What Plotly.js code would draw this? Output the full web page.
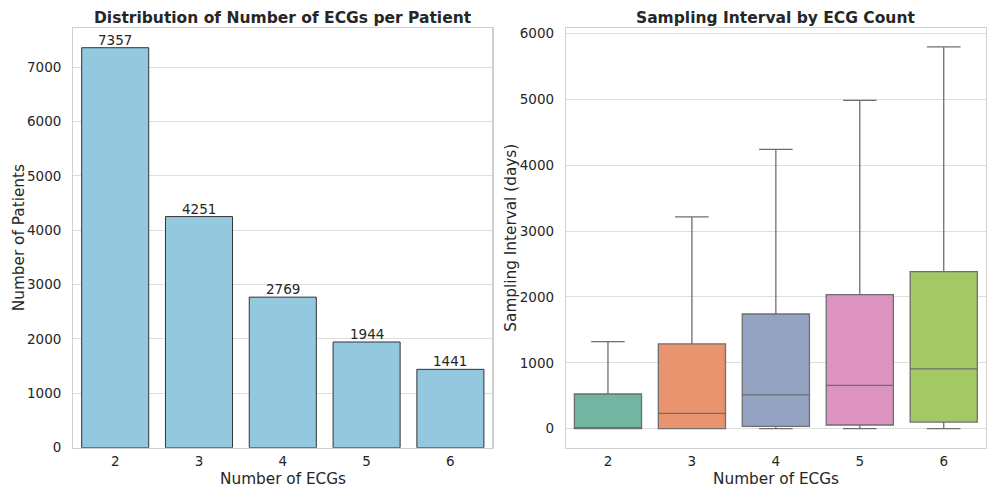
<!DOCTYPE html>
<html>
<head>
<meta charset="utf-8">
<script src="https://cdn.plot.ly/plotly-3.0.1.min.js"></script>
<style>html,body{margin:0;padding:0;background:#fff;}#chart{width:997px;height:498px;}</style>
</head>
<body>
<div id="chart"></div>
<script>
// ---- Data ----
const ecgCounts = ['2', '3', '4', '5', '6'];
const patientCounts = [7357, 4251, 2769, 1944, 1441];

// Sampling interval (days) box statistics per ECG count
const q1 = [0, 0, 35, 55, 100];
const medians = [5, 232, 511, 658, 906];
const q3 = [526, 1286, 1741, 2035, 2385];
const lowerWhisker = [0, 0, 0, 0, 0];
const upperWhisker = [1321, 3215, 4243, 4987, 5800];

const boxColors = ['#72b6a1', '#e9946f', '#95a3c3', '#dc93c0', '#a4c865'];

const FONT = 'DejaVu Sans, sans-serif';
const TXT = '#262626';
const W = 997, H = 498;

const traces = [];
traces.push({
  type: 'bar', x: ecgCounts, y: patientCounts, xaxis: 'x', yaxis: 'y',
  width: 0.8,
  marker: {color: '#93c8de', line: {color: '#333333', width: 1}},
  hoverinfo: 'x+y', showlegend: false
});
ecgCounts.forEach((c, i) => {
  traces.push({
    type: 'box', x: [c], xaxis: 'x2', yaxis: 'y2',
    q1: [q1[i]], median: [medians[i]], q3: [q3[i]],
    lowerfence: [lowerWhisker[i]], upperfence: [upperWhisker[i]],
    boxpoints: false, width: 0.8, whiskerwidth: 0.5,
    fillcolor: boxColors[i], line: {color: '#6e6e6e', width: 1.3},
    showlegend: false, name: c
  });
});

const axBase = {
  showline: true, mirror: true, linecolor: '#d0d0d0', linewidth: 1.2,
  zeroline: false, showgrid: true, gridcolor: '#dedede', gridwidth: 1,
  tickfont: {family: FONT, size: 13.5, color: TXT}, ticks: ''
};

// bar value labels: x given as category index on the category axis
const barLabels = ecgCounts.map((c, i) => ({
  text: String(patientCounts[i]), x: i, y: patientCounts[i], xref: 'x', yref: 'y',
  showarrow: false, xanchor: 'center', yanchor: 'bottom', yshift: -2,
  font: {family: FONT, size: 13.5, color: TXT}
}));

const layout = {
  width: W, height: H, margin: {l: 0, r: 0, t: 0, b: 0},
  paper_bgcolor: '#ffffff', plot_bgcolor: '#ffffff',
  boxmode: 'overlay', showlegend: false,
  xaxis: Object.assign({}, axBase, {domain: [73.3 / W, 492.3 / W], type: 'category', range: [-0.5, 4.5], showgrid: false, ticklabelstandoff: 1, anchor: 'y'}),
  yaxis: Object.assign({}, axBase, {domain: [1 - 447.7 / H, 1 - 27.7 / H], range: [0, 7725], tickvals: [0, 1000, 2000, 3000, 4000, 5000, 6000, 7000], ticklabelstandoff: 8, anchor: 'x'}),
  xaxis2: Object.assign({}, axBase, {domain: [566 / W, 985.7 / W], type: 'category', range: [-0.5, 4.5], showgrid: false, ticklabelstandoff: 1, anchor: 'y2'}),
  yaxis2: Object.assign({}, axBase, {domain: [1 - 447.7 / H, 1 - 27.7 / H], range: [-290, 6090], tickvals: [0, 1000, 2000, 3000, 4000, 5000, 6000], ticklabelstandoff: 8, anchor: 'x2'}),
  annotations: barLabels.concat([
    {text: '<b>Distribution of Number of ECGs per Patient</b>', x: 282.8 / W, y: 1 - 17.7 / H, xref: 'paper', yref: 'paper', showarrow: false, xanchor: 'center', yanchor: 'middle', font: {family: FONT, size: 15.5, color: TXT}},
    {text: '<b>Sampling Interval by ECG Count</b>', x: 775.9 / W, y: 1 - 17.7 / H, xref: 'paper', yref: 'paper', showarrow: false, xanchor: 'center', yanchor: 'middle', font: {family: FONT, size: 15.5, color: TXT}},
    {text: 'Number of ECGs', x: 282.8 / W, y: 1 - 479 / H, xref: 'paper', yref: 'paper', showarrow: false, xanchor: 'center', yanchor: 'middle', font: {family: FONT, size: 15.3, color: TXT}},
    {text: 'Number of ECGs', x: 775.9 / W, y: 1 - 479 / H, xref: 'paper', yref: 'paper', showarrow: false, xanchor: 'center', yanchor: 'middle', font: {family: FONT, size: 15.3, color: TXT}},
    {text: 'Number of Patients', x: 18.5 / W, y: 1 - 237.7 / H, xref: 'paper', yref: 'paper', showarrow: false, textangle: -90, xanchor: 'center', yanchor: 'middle', font: {family: FONT, size: 15.3, color: TXT}},
    {text: 'Sampling Interval (days)', x: 511 / W, y: 1 - 237.7 / H, xref: 'paper', yref: 'paper', showarrow: false, textangle: -90, xanchor: 'center', yanchor: 'middle', font: {family: FONT, size: 15.3, color: TXT}}
  ])
};

Plotly.newPlot('chart', traces, layout, {staticPlot: true, displayModeBar: false});
</script>
</body>
</html>
